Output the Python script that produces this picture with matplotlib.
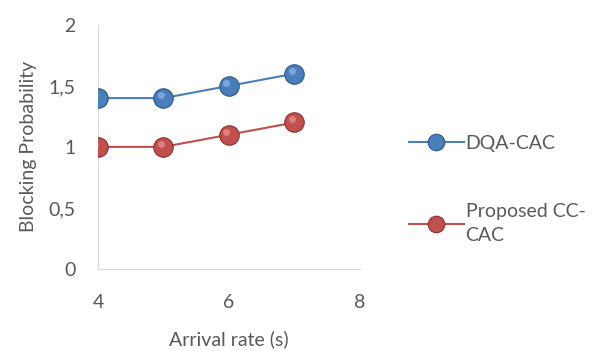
import matplotlib
matplotlib.use("Agg")
import matplotlib.pyplot as plt

arrival = [4, 5, 6, 7]
dqa_cac = [1.4, 1.4, 1.5, 1.6]
cc_cac = [1.0, 1.0, 1.1, 1.2]

plt.rcParams['font.family'] = ['Lato', 'DejaVu Sans']
grey = '#595959'

fig = plt.figure(figsize=(6.12, 3.51), dpi=100)
ax = fig.add_axes([0.160, 0.234, 0.428, 0.695])

def sphere(x, y, face, edge, light, label):
	ax.plot(x, y, color=face, lw=1.5, marker='o', ms=14, mfc=face, mec=edge, mew=0.8, label=label, zorder=3)
	ax.plot([v - 0.04 for v in x], [v + 0.025 for v in y], ls='none', marker='o', ms=5, mfc=light, mec='none', alpha=0.6, zorder=4)

sphere(arrival, dqa_cac, '#4a7ebb', '#2c5689', '#9cc2ee', 'DQA-CAC')
sphere(arrival, cc_cac, '#c0504d', '#8a2f2d', '#eba3a1', 'Proposed CC-\nCAC')

ax.set_xlim(4, 8)
ax.set_ylim(0, 2)
ax.set_xticks([4, 6, 8])
ax.set_yticks([0, 0.5, 1, 1.5, 2])
ax.set_yticklabels(['0', '0,5', '1', '1,5', '2'])
ax.tick_params(length=0, labelsize=14, colors=grey)
ax.tick_params(axis='y', pad=16)
ax.tick_params(axis='x', pad=18)
for s in ['top', 'right']:
	ax.spines[s].set_visible(False)
for s in ['left', 'bottom']:
	ax.spines[s].set_color('#d9d9d9')
ax.set_xlabel('Arrival rate (s)', fontsize=14, color=grey, labelpad=14)
ax.set_ylabel('Blocking Probability', fontsize=14, color=grey, labelpad=8)

leg = fig.legend(loc='upper left', bbox_to_anchor=(0.64, 0.665), frameon=False,
	fontsize=14, labelspacing=2.6, handlelength=2.8, handletextpad=0.1, markerscale=0.85)
for t in leg.get_texts():
	t.set_color(grey)
	t.set_linespacing(1.55)

plt.savefig('out.png', dpi=100)
